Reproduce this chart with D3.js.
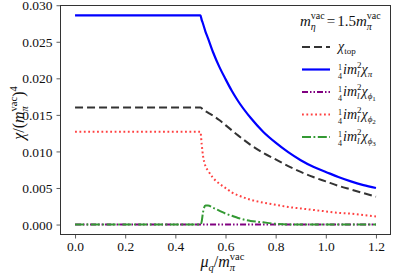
<!DOCTYPE html>
<html>
<head>
<meta charset="utf-8">
<script src="https://cdn.jsdelivr.net/npm/d3@7"></script>
<style>
  body { margin: 0; background: white; }
  text { font-family: "Liberation Serif", "DejaVu Serif", serif; fill: #111; }
</style>
</head>
<body>
<svg id="chart" width="393" height="275"></svg>
<script>
// werte
const muVals  = [0, 0.1, 0.2, 0.3, 0.4, 0.5, 0.505, 0.51, 0.52, 0.53, 0.55, 0.575, 0.6, 0.625, 0.65, 0.7, 0.75, 0.8, 0.85, 0.9, 0.95, 1.0, 1.05, 1.1, 1.15, 1.2];
const chiTop  = [0.0160, 0.0160, 0.0160, 0.0160, 0.0160, 0.0160, 0.0159, 0.0157, 0.0155, 0.0153, 0.0149, 0.0143, 0.0136, 0.0129, 0.0122, 0.0109, 0.0098, 0.0089, 0.0080, 0.0072, 0.0065, 0.0059, 0.0053, 0.0048, 0.0043, 0.0038];
const chiPi   = [0.0286, 0.0286, 0.0286, 0.0286, 0.0286, 0.0286, 0.0280, 0.0275, 0.0264, 0.0255, 0.0236, 0.0216, 0.0199, 0.0183, 0.0169, 0.0146, 0.0127, 0.0112, 0.0099, 0.0088, 0.0079, 0.0072, 0.0065, 0.0059, 0.0054, 0.0050];
const chiPhi1 = [0, 0, 0, 0, 0, 0, 0, 0, 0, 0, 0, 0, 0, 0, 0, 0, 0, 0, 0, 0, 0, 0, 0, 0, 0, 0];
const chiPhi2 = [0.0127, 0.0127, 0.0127, 0.0127, 0.0127, 0.0127, 0.0110, 0.0095, 0.0080, 0.0074, 0.0064, 0.0056, 0.0050, 0.0044, 0.0040, 0.0034, 0.0030, 0.0027, 0.0024, 0.0022, 0.0020, 0.0018, 0.0016, 0.0015, 0.0013, 0.0011];
const chiPhi3 = [0, 0, 0, 0, 0, 0, 0.0004, 0.0016, 0.0026, 0.0026, 0.0023, 0.0019, 0.0015, 0.0012, 0.0009, 0.0005, 0.0003, 0.0001, 0, 0, 0, 0, 0, 0, 0, 0];

const xTicks = [0.0, 0.2, 0.4, 0.6, 0.8, 1.0, 1.2];
const yTicks = [0.000, 0.005, 0.010, 0.015, 0.020, 0.025, 0.030];

const svg = d3.select("#chart");
const mLeft = 60, mRight = 391, mTop = 5, mBottom = 235;
const serif = '"Liberation Serif", "DejaVu Serif", serif';

const x = d3.scaleLinear().domain([-0.06, 1.26]).range([mLeft, mRight]);
const y = d3.scaleLinear().domain([-0.00143, 0.03003]).range([mBottom, mTop]);

// Hilfsfunktion: Text mit Index/Exponent aus einzelnen Stücken
function rich(g, pieces) {
    const grp = g.append("g");
    let cx = 0, prevX = 0;
    pieces.forEach(p => {
        const px = p.over ? prevX : cx;
        const t = grp.append("text")
            .attr("x", px)
            .attr("y", p.dy || 0)
            .attr("font-family", serif)
            .attr("font-size", p.s)
            .attr("font-style", p.i ? "italic" : "normal")
            .text(p.t);
        const w = t.node().getComputedTextLength();
        prevX = px;
        cx = Math.max(cx, px + w) + (p.gap || 0);
    });
    return { grp, width: cx };
}

// Achsen
const xAxis = svg.append("g")
    .attr("transform", `translate(0,${mBottom})`)
    .call(d3.axisBottom(x).tickValues(xTicks).tickFormat(d3.format(".1f")).tickSize(3.5).tickPadding(3));
const yAxis = svg.append("g")
    .attr("transform", `translate(${mLeft},0)`)
    .call(d3.axisLeft(y).tickValues(yTicks).tickFormat(d3.format(".3f")).tickSize(3.5).tickPadding(4));

[xAxis, yAxis].forEach(a => {
    a.attr("font-family", serif).attr("font-size", 13.5);
    a.select(".domain").remove();
    a.selectAll("line").attr("stroke", "#333").attr("stroke-width", 0.8);
    a.selectAll("text").attr("fill", "#111");
});
yAxis.selectAll("text").attr("dy", "0.34em");

// Rahmen
svg.append("rect")
    .attr("x", mLeft + 0.5).attr("y", mTop + 0.5)
    .attr("width", mRight - mLeft - 1).attr("height", mBottom - mTop - 1)
    .attr("fill", "none").attr("stroke", "#333").attr("stroke-width", 1);

const series = [
    { vals: chiPhi1, color: "#800080", dash: "6,2,1.5,2,1.5,2", w: 2 },
    { vals: chiPhi2, color: "#ff4040", dash: "1.8,2.6", w: 2 },
    { vals: chiPhi3, color: "#339933", dash: "9,2.5,1.8,2.5", w: 2 },
    { vals: chiTop,  color: "#333333", dash: "8,4", w: 2 },
    { vals: chiPi,   color: "#0000ff", dash: null, w: 2.2 }
];

const line = d3.line()
    .x(d => x(d[0]))
    .y(d => y(d[1]))
    .curve(d3.curveMonotoneX);

const plot = svg.append("g");
series.forEach(s => {
    plot.append("path")
        .datum(muVals.map((m, i) => [m, s.vals[i]]))
        .attr("d", line)
        .attr("fill", "none")
        .attr("stroke", s.color)
        .attr("stroke-width", s.w)
        .attr("stroke-dasharray", s.dash);
});

// Achsenbeschriftungen
const xl = rich(svg, [
    { t: "μ", s: 16, i: true },
    { t: "q", s: 10.5, i: true, dy: 4 },
    { t: "/", s: 16 },
    { t: "m", s: 16, i: true },
    { t: "π", s: 10.5, i: true, dy: 4 },
    { t: "vac", s: 10.5, dy: -7, over: true }
]);
xl.grp.attr("transform", `translate(${(mLeft + mRight) / 2 - 3 - xl.width / 2},267)`);

const yl = rich(svg, [
    { t: "χ", s: 16, i: true },
    { t: "/(", s: 16 },
    { t: "m", s: 16, i: true },
    { t: "π", s: 10.5, i: true, dy: 4 },
    { t: "vac", s: 10.5, dy: -7, over: true },
    { t: ")", s: 16 },
    { t: "4", s: 10.5, dy: -7 }
]);
yl.grp.attr("transform", `translate(24,113) rotate(-90) translate(${-yl.width / 2},0)`);

// Legende
const title = rich(svg, [
    { t: "m", s: 15, i: true },
    { t: "η", s: 10, i: true, dy: 4 },
    { t: "vac", s: 10, dy: -7, over: true, gap: 2 },
    { t: "=", s: 15, gap: 2 },
    { t: "1.5", s: 15 },
    { t: "m", s: 15, i: true },
    { t: "π", s: 10, i: true, dy: 4 },
    { t: "vac", s: 10, dy: -7, over: true }
]);
title.grp.attr("transform", `translate(300,26)`);

function fracLabel(sub, idx) {
    const p = [
        { t: "1", s: 8, dy: -4 },
        { t: "4", s: 8, dy: 5, over: true, gap: 1 },
        { t: "im", s: 14, i: true },
        { t: "l", s: 9, i: true, dy: 3 },
        { t: "2", s: 9, dy: -6, over: true },
        { t: "χ", s: 14, i: true },
        { t: sub, s: 9, i: true, dy: 3 }
    ];
    if (idx) p.push({ t: idx, s: 7, dy: 5 });
    return p;
}

const legendItems = [
    { color: "#333333", dash: "8,4", w: 2, label: [{ t: "χ", s: 14, i: true }, { t: "top", s: 9, dy: 3 }] },
    { color: "#0000ff", dash: null, w: 2.2, label: fracLabel("π") },
    { color: "#800080", dash: "6,2,1.5,2,1.5,2", w: 2, label: fracLabel("ϕ", "1") },
    { color: "#ff4040", dash: "1.8,2.6", w: 2, label: fracLabel("ϕ", "2") },
    { color: "#339933", dash: "9,2.5,1.8,2.5", w: 2, label: fracLabel("ϕ", "3") }
];

legendItems.forEach((it, i) => {
    const cy = 47 + i * 22.5;
    svg.append("line")
        .attr("x1", 302).attr("x2", 330)
        .attr("y1", cy).attr("y2", cy)
        .attr("stroke", it.color)
        .attr("stroke-width", it.w)
        .attr("stroke-dasharray", it.dash);
    const lab = rich(svg, it.label);
    lab.grp.attr("transform", `translate(338,${cy + 4})`);
});
</script>
</body>
</html>
